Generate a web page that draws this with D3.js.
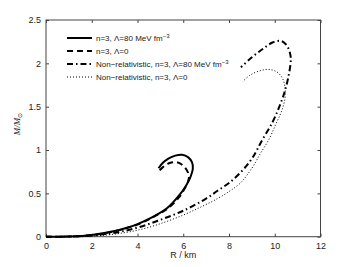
<!DOCTYPE html>
<html>
<head>
<meta charset="utf-8">
<script src="https://cdn.jsdelivr.net/npm/d3@7"></script>
<style>
  body { margin: 0; background: #fff; }
  text { font-family: "Liberation Sans", Arial, sans-serif; fill: #222; }
</style>
</head>
<body>
<div class="chart"></div>
<script>
var svgWidth = 354;
var svgHeight = 267;

var margin = { top: 20, right: 34, bottom: 30, left: 46 };
var width = 320.5 - margin.left;
var height = 236.7 - margin.top;

// curve data (R in km, M in solar masses)
var relLam80R = [0, 1, 2, 3, 3.5, 4, 4.5, 4.85, 5.3, 5.8, 6.1, 6.3, 6.42, 6.38, 6.22, 5.95, 5.65, 5.35, 5.1, 4.92];
var relLam80M = [0, 0.002, 0.02, 0.065, 0.1, 0.145, 0.205, 0.255, 0.33, 0.47, 0.58, 0.68, 0.79, 0.86, 0.915, 0.945, 0.935, 0.9, 0.85, 0.79];

var relLam0R = [0, 1, 2, 3, 3.5, 4, 4.5, 4.85, 5.3, 5.8, 6.05, 6.2, 6.25, 6.15, 5.95, 5.7, 5.4, 5.1, 4.88];
var relLam0M = [0, 0.002, 0.019, 0.062, 0.097, 0.14, 0.2, 0.25, 0.32, 0.45, 0.55, 0.63, 0.7, 0.77, 0.83, 0.86, 0.85, 0.8, 0.74];

var nrLam80R = [0, 1, 2, 3, 4, 5, 6, 7, 7.5, 8, 8.5, 9, 9.45, 9.9, 10.2, 10.42, 10.6, 10.7, 10.6, 10.45, 10.24, 9.9, 9.5, 9.0, 8.52];
var nrLam80M = [0, 0.002, 0.013, 0.045, 0.105, 0.195, 0.3, 0.44, 0.53, 0.62, 0.74, 0.9, 1.115, 1.32, 1.5, 1.66, 1.85, 2.06, 2.17, 2.23, 2.26, 2.24, 2.17, 2.07, 1.954];

var nrLam0R = [0, 1, 2, 3, 4, 5, 6, 6.75, 7.5, 8.05, 8.5, 9.0, 9.35, 9.73, 10.05, 10.3, 10.45, 10.45, 10.35, 10.1, 9.73, 9.3, 8.9, 8.6];
var nrLam0M = [0, 0.001, 0.008, 0.03, 0.075, 0.15, 0.25, 0.34, 0.44, 0.53, 0.62, 0.79, 0.95, 1.115, 1.3, 1.45, 1.6, 1.72, 1.82, 1.9, 1.93, 1.91, 1.86, 1.79];

var xTicks = [0, 2, 4, 6, 8, 10, 12];
var yTicks = [0, 0.5, 1, 1.5, 2, 2.5];

var series = [
  { name: "n=3, \u039B=80 MeV fm", sup: "\u22123", r: relLam80R, m: relLam80M, dash: null, w: 2 },
  { name: "n=3, \u039B=0", sup: null, r: relLam0R, m: relLam0M, dash: "6,4", w: 2 },
  { name: "Non\u2212relativistic, n=3, \u039B=80 MeV fm", sup: "\u22123", r: nrLam80R, m: nrLam80M, dash: "6,3,1.5,3", w: 2 },
  { name: "Non\u2212relativistic, n=3, \u039B=0", sup: null, r: nrLam0R, m: nrLam0M, dash: "1,2", w: 1 }
];

var svg = d3.select(".chart")
  .append("svg")
  .attr("width", svgWidth)
  .attr("height", svgHeight);

var chartGroup = svg.append("g")
  .attr("transform", `translate(${margin.left}, ${margin.top})`);

var x = d3.scaleLinear().domain([0, 12]).range([0, width]);
var y = d3.scaleLinear().domain([0, 2.5]).range([height, 0]);

// axes, ticks pointing inward like matlab
function styleAxis(g) {
  g.select(".domain").remove();
  g.selectAll("line").attr("stroke", "#444");
  g.selectAll("text").style("font-size", "9px").attr("fill", "#222");
}

chartGroup.append("g")
  .attr("transform", `translate(0, ${height})`)
  .call(d3.axisBottom(x).tickValues(xTicks).tickFormat(d3.format("d")).tickSizeInner(-3).tickSizeOuter(0).tickPadding(6))
  .call(styleAxis);

chartGroup.append("g")
  .call(d3.axisTop(x).tickValues(xTicks).tickFormat("").tickSizeInner(-3).tickSizeOuter(0))
  .call(styleAxis);

chartGroup.append("g")
  .call(d3.axisLeft(y).tickValues(yTicks).tickFormat(d => d).tickSizeInner(-3).tickSizeOuter(0).tickPadding(5))
  .call(styleAxis);

chartGroup.append("g")
  .attr("transform", `translate(${width}, 0)`)
  .call(d3.axisRight(y).tickValues(yTicks).tickFormat("").tickSizeInner(-3).tickSizeOuter(0))
  .call(styleAxis);

chartGroup.append("rect")
  .attr("width", width)
  .attr("height", height)
  .attr("fill", "none")
  .attr("stroke", "#444")
  .attr("stroke-width", 1);

// curves
var line = d3.line()
  .x(d => x(d[0]))
  .y(d => y(d[1]))
  .curve(d3.curveCatmullRom.alpha(0.5));

series.forEach(function (s) {
  var pts = s.r.map((r, i) => [r, s.m[i]]);
  chartGroup.append("path")
    .datum(pts)
    .attr("d", line)
    .attr("fill", "none")
    .attr("stroke", "#000")
    .attr("stroke-width", s.w)
    .attr("stroke-dasharray", s.dash);
});

// legend
var legend = svg.append("g").attr("transform", "translate(67, 38)");
series.forEach(function (s, i) {
  var row = legend.append("g").attr("transform", `translate(0, ${i * 13})`);
  row.append("line")
    .attr("x1", 0).attr("x2", 25)
    .attr("stroke", "#000")
    .attr("stroke-width", s.w)
    .attr("stroke-dasharray", s.dash);
  var t = row.append("text")
    .attr("x", 29)
    .attr("dy", "0.35em")
    .style("font-size", "8px")
    .text(s.name);
  if (s.sup) {
    t.append("tspan").attr("dy", "-0.5em").style("font-size", "6px").text(s.sup);
  }
});

// axis labels
svg.append("text")
  .attr("x", margin.left + width / 2)
  .attr("y", 258)
  .attr("text-anchor", "middle")
  .style("font-size", "9px")
  .text("R / km");

var yl = svg.append("text")
  .attr("transform", "translate(20, 124) rotate(-90)")
  .attr("text-anchor", "middle")
  .style("font-family", "'Liberation Serif', serif")
  .style("font-style", "italic")
  .style("font-size", "9px");
yl.append("tspan").text("M/M");
yl.append("tspan").attr("dy", "2").style("font-size", "6px").style("font-style", "normal").text("\u2299");
</script>
</body>
</html>
